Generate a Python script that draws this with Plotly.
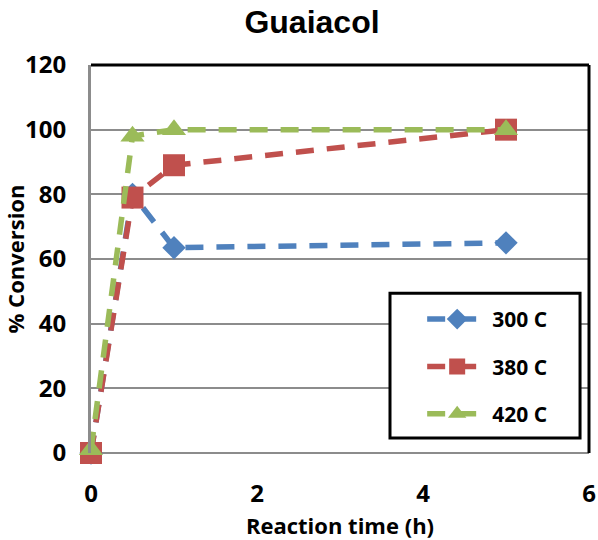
import plotly.graph_objects as go

# Reaction time (h) and % conversion of guaiacol at three temperatures
time_h = [0, 0.5, 1, 5]
conv_300 = [0, 80, 63.5, 65]
conv_380 = [0, 79, 89, 100]
conv_420 = [1, 98, 100, 100]

series_names = ["300 C", "380 C", "420 C"]
colors = ["#4F81BD", "#C0504D", "#9BBB59"]
symbols = ["diamond", "square", "triangle-up"]
marker_sizes = [18, 22, 21]

fig = go.Figure()
for name, vals, col, sym, ms in zip(series_names, [conv_300, conv_380, conv_420],
                                    colors, symbols, marker_sizes):
    fig.add_trace(go.Scatter(
        x=time_h, y=vals, name=name, legendgroup=name, mode="lines+markers",
        line=dict(color=col, width=5.5, dash="18px,13px"),
        marker=dict(symbol=sym, size=ms, color=col, line=dict(width=0)),
        cliponaxis=False,
    ))

tick_font = dict(family="Open Sans", size=24, color="black", weight="bold")
title_font = dict(family="Open Sans", size=22, color="black", weight="bold")

fig.update_layout(
    width=598, height=540,
    margin=dict(l=91, r=9, t=65, b=87),
    paper_bgcolor="white", plot_bgcolor="white",
    title=dict(text="Guaiacol", x=312 / 598, xanchor="center", y=1 - 22 / 540,
               yanchor="middle",
               font=dict(family="Liberation Sans", size=32, color="black", weight="bold")),
    xaxis=dict(range=[0, 6], dtick=2, showgrid=False, zeroline=False, automargin=False,
               showline=False, ticks="", ticklabelstandoff=24, tickfont=tick_font,
               title=dict(text="Reaction time (h)", font=title_font)),
    yaxis=dict(range=[0, 120], dtick=20, showgrid=True, gridcolor="#8c8c8c", gridwidth=2,
               zeroline=False, showline=True, linecolor="#8c8c8c", linewidth=3,
               automargin=False, ticks="", ticklabelstandoff=17, tickfont=tick_font,
               title=dict(text="% Conversion", font=title_font)),
    legend=dict(x=0.665, y=0.397, xanchor="left", yanchor="top",
                bgcolor="rgba(0,0,0,0)", borderwidth=0,
                font=dict(family="Open Sans", size=21, color="black", weight="bold"),
                tracegroupgap=17, itemwidth=60, traceorder="grouped"),
    showlegend=True,
)

# Chart frame: black top and right edges, grey zero line along the bottom
fig.add_shape(type="line", xref="paper", yref="paper", x0=0, x1=1, y0=1, y1=1,
              line=dict(color="black", width=3))
fig.add_shape(type="line", xref="paper", yref="paper", x0=1, x1=1, y0=0, y1=1,
              line=dict(color="black", width=3))
fig.add_shape(type="line", xref="paper", yref="paper", x0=0, x1=1, y0=0, y1=0,
              line=dict(color="#8c8c8c", width=2), layer="below")

# Boxed legend area
fig.add_shape(type="rect", xref="paper", yref="paper",
              x0=0.6004, x1=0.982, y0=0.0387, y1=0.412,
              fillcolor="white", line=dict(color="black", width=3), layer="above")

fig.write_html("out.html")
